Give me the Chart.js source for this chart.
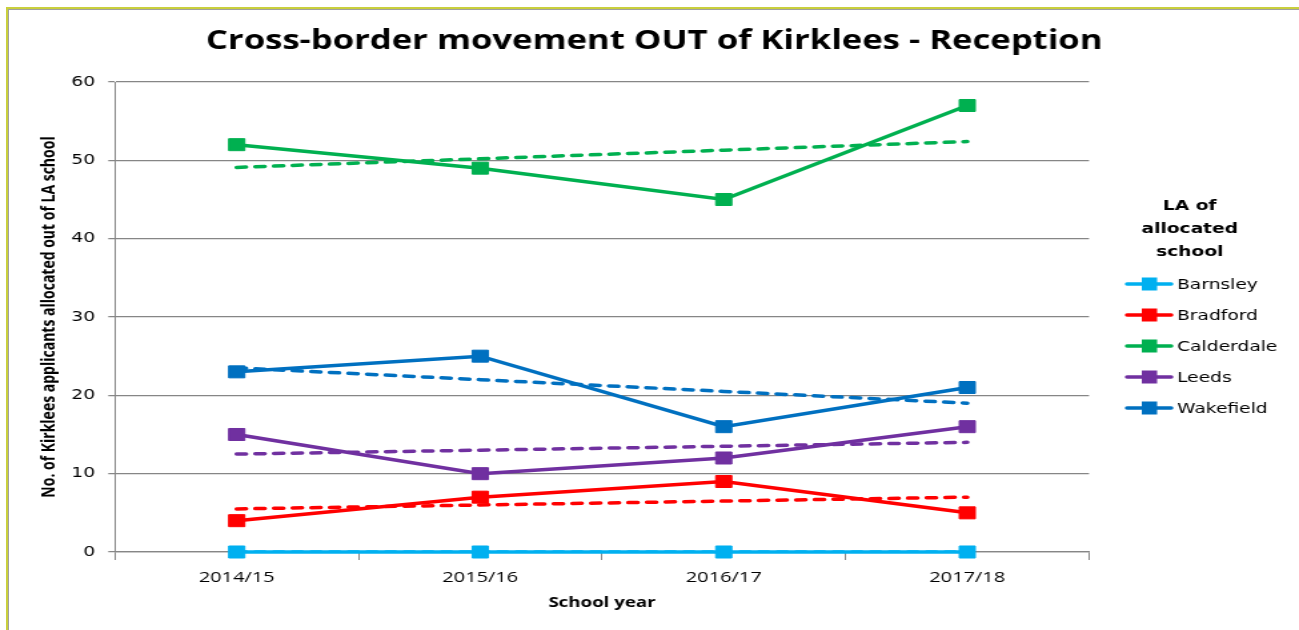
<!DOCTYPE html>
<html>
<head>
<meta charset="utf-8">
<script src="https://cdn.jsdelivr.net/npm/chart.js@4"></script>
<style>
  body { margin: 0; background: #fff; }
  #wrap { position: relative; width: 1299px; height: 630px; overflow: hidden; }
  #frame {
    position: absolute; left: 6px; top: 7px; right: 0; bottom: 0;
    border-top: 2px solid #c9cf3c; border-left: 2px solid #c9cf3c;
    box-shadow: inset 1px 1px 0 #a0a0a0;
  }
  /* the source picture is a chart stretched sideways by about 4:3 */
  canvas { position: absolute; left: 0; top: 0; transform: scaleX(1.3323); transform-origin: 0 0; }
</style>
</head>
<body>
<div id="wrap">
  <div id="frame"></div>
  <canvas id="myChart" width="975" height="630"></canvas>
</div>
<script>
const schoolYears = ["2014/15", "2015/16", "2016/17", "2017/18"];
const seriesNames = ["Barnsley", "Bradford", "Calderdale", "Leeds", "Wakefield"];
const seriesColors = ["#00b0f0", "#ff0000", "#00b050", "#7030a0", "#0070c0"];

const barnsley = [0, 0, 0, 0];
const bradford = [4, 7, 9, 5];
const calderdale = [52, 49, 45, 57];
const leeds = [15, 10, 12, 16];
const wakefield = [23, 25, 16, 21];

// dashed trend lines
const barnsleyTrend = [0, 0, 0, 0];
const bradfordTrend = [5.5, 6, 6.5, 7];
const calderdaleTrend = [49.1, 50.2, 51.3, 52.4];
const leedsTrend = [12.5, 13, 13.5, 14];
const wakefieldTrend = [23.5, 22, 20.5, 19];

const seriesValues = [barnsley, bradford, calderdale, leeds, wakefield];
const trendValues = [barnsleyTrend, bradfordTrend, calderdaleTrend, leedsTrend, wakefieldTrend];

const datasets = [];
for (let i = seriesNames.length - 1; i >= 0; i--) {
  datasets.push({
    label: seriesNames[i] + " trend",
    data: trendValues[i],
    borderColor: seriesColors[i],
    borderWidth: 3.5,
    borderDash: [7, 7],
    borderCapStyle: "round",
    pointRadius: 0,
    fill: false,
  });
}
for (let i = seriesNames.length - 1; i >= 0; i--) {
  datasets.push({
    label: seriesNames[i],
    data: seriesValues[i],
    borderColor: seriesColors[i],
    backgroundColor: seriesColors[i],
    borderWidth: 3.5,
    pointStyle: "rect",
    pointRadius: 8.5,
    pointHoverRadius: 8.5,
    pointBorderWidth: 1,
    fill: false,
    clip: false,
  });
}

// title + legend with a three-line heading, drawn on the canvas
const extraText = {
  id: "extraText",
  afterDraw(chart) {
    const ctx = chart.ctx;
    ctx.save();
    ctx.fillStyle = "#000";
    ctx.textAlign = "center";
    ctx.textBaseline = "middle";
    ctx.font = "bold 26px 'Open Sans'";
    ctx.fillText("Cross-border movement OUT of Kirklees - Reception", 491, 42);

    ctx.font = "bold 14px 'DejaVu Sans'";
    ["LA of", "allocated", "school"].forEach((t, k) => ctx.fillText(t, 893, 206 + k * 23));
    ctx.font = "14px 'DejaVu Sans'";
    ctx.textAlign = "left";
    for (let i = 0; i < seriesNames.length; i++) {
      const y = 284 + i * 31;
      ctx.strokeStyle = seriesColors[i];
      ctx.lineWidth = 3.5;
      ctx.lineCap = "round";
      ctx.beginPath();
      ctx.moveTo(846, y);
      ctx.lineTo(879, y);
      ctx.stroke();
      ctx.fillStyle = seriesColors[i];
      ctx.fillRect(857, y - 6.5, 11.5, 13);
      ctx.fillStyle = "#000";
      ctx.fillText(seriesNames[i], 883.5, y + 1);
    }
    ctx.restore();
  },
};

new Chart(document.getElementById("myChart"), {
  type: "line",
  data: { labels: schoolYears, datasets: datasets },
  options: {
    responsive: false,
    animation: false,
    layout: { padding: { left: 8, right: 157.6, top: 82, bottom: 0 } },
    scales: {
      x: {
        offset: true,
        grid: {
          offset: true,
          drawOnChartArea: false,
          drawTicks: true,
          tickLength: 8,
          color: "#868686",
        },
        border: { display: true, color: "#868686", width: 1.25 },
        ticks: { color: "#000", font: { family: "'Open Sans'", size: 15 }, padding: 9 },
        title: {
          display: true,
          text: "School year",
          color: "#000",
          font: { family: "'Open Sans'", size: 14, weight: "bold" },
          padding: { top: 0, bottom: 19 },
        },
        afterFit(scale) { scale.height = 78; },
      },
      y: {
        min: 0,
        max: 60,
        ticks: { stepSize: 10, color: "#000", font: { family: "'DejaVu Sans'", size: 14 }, padding: 10 },
        grid: { color: "#868686", tickLength: 5, lineWidth: 1.25 },
        border: { display: true, color: "#868686", width: 1 },
        title: {
          display: true,
          text: "No. of Kirklees applicants allocated out of LA school",
          color: "#000",
          font: { family: "'Open Sans'", size: 14, weight: "bold" },
          padding: { top: 21, bottom: 0 },
        },
        afterFit(scale) { scale.width = 78.3; },
      },
    },
    plugins: {
      legend: { display: false },
      tooltip: { enabled: false },
      title: { display: false },
    },
  },
  plugins: [extraText],
});
</script>
</body>
</html>
